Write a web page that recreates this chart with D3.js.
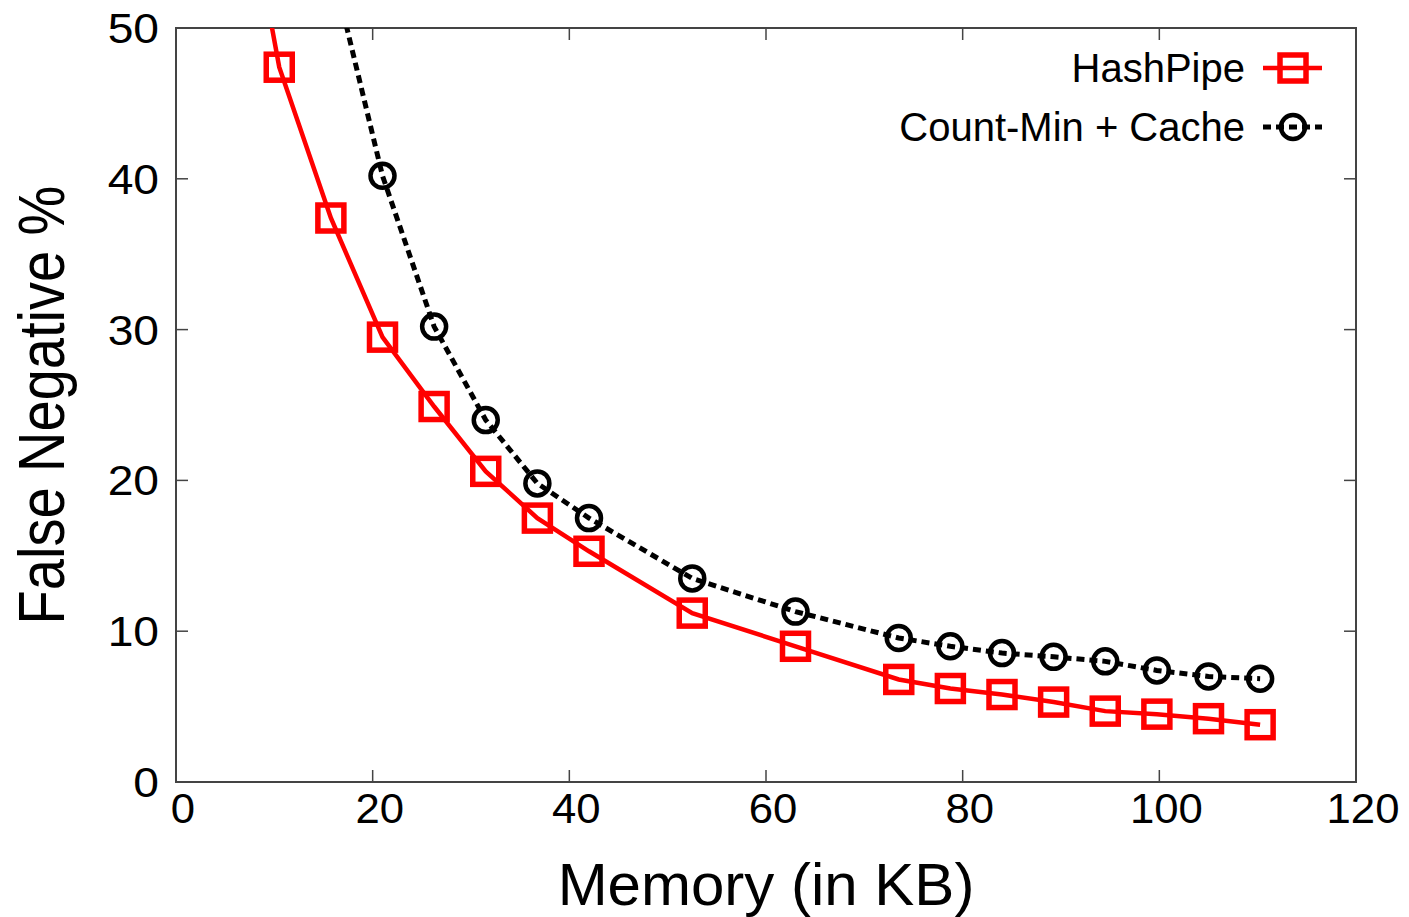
<!DOCTYPE html>
<html>
<head>
<meta charset="utf-8">
<script src="https://cdn.jsdelivr.net/npm/d3@7"></script>
<style>
  html, body { margin: 0; padding: 0; background: #fff; }
  svg text { font-family: "Liberation Sans", Arial, Helvetica, sans-serif; fill: #000; }
</style>
</head>
<body>
<div id="chart"></div>
<script>
// memory sizes (KB) and false negative rates
var memory = [5.25, 10.5, 15.75, 21, 26.25, 31.5, 36.75, 42, 52.5, 63, 73.5, 78.75, 84, 89.25, 94.5, 99.75, 105, 110.25];
var hashPipe = [66, 47.4, 37.4, 29.5, 24.9, 20.6, 17.5, 15.3, 11.2, 9.0, 6.8, 6.2, 5.8, 5.3, 4.7, 4.5, 4.2, 3.8];
var countMin = [null, null, 54.4, 40.2, 30.2, 24.0, 19.8, 17.5, 13.5, 11.3, 9.55, 9.0, 8.55, 8.3, 8.0, 7.4, 7.0, 6.85];
var xTicks = [0, 20, 40, 60, 80, 100, 120];
var yTicks = [0, 10, 20, 30, 40, 50];
var seriesNames = ["HashPipe", "Count-Min + Cache"];

function draw() {
    var W = 1409, H = 917;
    var plot = { left: 176, right: 1356, top: 28, bottom: 782 };

    var x = d3.scaleLinear().domain([0, 120]).range([plot.left, plot.right]);
    var y = d3.scaleLinear().domain([0, 50]).range([plot.bottom, plot.top]);

    var svg = d3.select("#chart").append("svg")
        .attr("width", W)
        .attr("height", H);

    svg.append("defs").append("clipPath")
        .attr("id", "plot-clip")
      .append("rect")
        .attr("x", plot.left)
        .attr("y", plot.top)
        .attr("width", plot.right - plot.left)
        .attr("height", plot.bottom - plot.top);

    // ticks, inward on all four sides
    var tickLen = 12;
    var axisColor = "#444";
    var ticks = svg.append("g").attr("stroke", axisColor).attr("stroke-width", 1.5);
    xTicks.slice(1, -1).forEach(function(t) {
        ticks.append("line").attr("x1", x(t)).attr("x2", x(t)).attr("y1", plot.bottom).attr("y2", plot.bottom - tickLen);
        ticks.append("line").attr("x1", x(t)).attr("x2", x(t)).attr("y1", plot.top).attr("y2", plot.top + tickLen);
    });
    yTicks.slice(1, -1).forEach(function(t) {
        ticks.append("line").attr("x1", plot.left).attr("x2", plot.left + tickLen).attr("y1", y(t)).attr("y2", y(t));
        ticks.append("line").attr("x1", plot.right).attr("x2", plot.right - tickLen).attr("y1", y(t)).attr("y2", y(t));
    });

    svg.append("rect")
        .attr("x", plot.left)
        .attr("y", plot.top)
        .attr("width", plot.right - plot.left)
        .attr("height", plot.bottom - plot.top)
        .attr("fill", "none")
        .attr("stroke", axisColor)
        .attr("stroke-width", 2);

    // tick labels
    svg.selectAll("text.xtick")
        .data(xTicks)
      .enter().append("text")
        .attr("class", "xtick")
        .attr("text-anchor", "middle")
        .attr("font-size", 42)
        .attr("transform", function(d) { return "translate(" + (x(d) + 7) + ",823) scale(1.04,1)"; })
        .text(function(d) { return d; });

    svg.selectAll("text.ytick")
        .data(yTicks)
      .enter().append("text")
        .attr("class", "ytick")
        .attr("text-anchor", "end")
        .attr("font-size", 42)
        .attr("transform", function(d) { return "translate(159," + (y(d) + 15) + ") scale(1.1,1)"; })
        .text(function(d) { return d; });

    // axis titles
    svg.append("text")
        .attr("x", 766)
        .attr("y", 905)
        .attr("text-anchor", "middle")
        .attr("font-size", 60)
        .text("Memory (in KB)");

    svg.append("text")
        .attr("text-anchor", "middle")
        .attr("font-size", 56)
        .attr("transform", "translate(64,405) rotate(-90) scale(1,1.17)")
        .text("False Negative %");

    // series
    var line = d3.line()
        .x(function(d) { return x(d[0]); })
        .y(function(d) { return y(d[1]); });

    var hpData = memory.map(function(m, i) { return [m, hashPipe[i]]; });
    var cmData = memory.map(function(m, i) { return [m, countMin[i]]; })
        .filter(function(d) { return d[1] != null; });

    var g = svg.append("g").attr("clip-path", "url(#plot-clip)");

    g.append("path")
        .datum(hpData)
        .attr("d", line)
        .attr("fill", "none")
        .attr("stroke", "#ff0000")
        .attr("stroke-width", 4.5);

    g.append("path")
        .datum(cmData)
        .attr("d", line)
        .attr("fill", "none")
        .attr("stroke", "#000")
        .attr("stroke-width", 5)
        .attr("stroke-dasharray", "8,5");

    var sq = 26;
    g.selectAll("rect.hp")
        .data(hpData)
      .enter().append("rect")
        .attr("class", "hp")
        .attr("x", function(d) { return x(d[0]) - sq / 2; })
        .attr("y", function(d) { return y(d[1]) - sq / 2; })
        .attr("width", sq)
        .attr("height", sq)
        .attr("fill", "none")
        .attr("stroke", "#ff0000")
        .attr("stroke-width", 5.5);

    g.selectAll("circle.cm")
        .data(cmData)
      .enter().append("circle")
        .attr("class", "cm")
        .attr("cx", function(d) { return x(d[0]); })
        .attr("cy", function(d) { return y(d[1]); })
        .attr("r", 12)
        .attr("fill", "none")
        .attr("stroke", "#000")
        .attr("stroke-width", 4.5);

    // legend
    var legend = svg.append("g");
    var rows = [68, 127];
    legend.selectAll("text")
        .data(seriesNames)
      .enter().append("text")
        .attr("x", 1245)
        .attr("y", function(d, i) { return rows[i] + 14; })
        .attr("text-anchor", "end")
        .attr("font-size", 40)
        .text(function(d) { return d; });

    legend.append("line")
        .attr("x1", 1263).attr("x2", 1322)
        .attr("y1", rows[0]).attr("y2", rows[0])
        .attr("stroke", "#ff0000").attr("stroke-width", 4.5);
    legend.append("rect")
        .attr("x", 1293 - sq / 2).attr("y", rows[0] - sq / 2)
        .attr("width", sq).attr("height", sq)
        .attr("fill", "none").attr("stroke", "#ff0000").attr("stroke-width", 5.5);

    legend.append("line")
        .attr("x1", 1263).attr("x2", 1322)
        .attr("y1", rows[1]).attr("y2", rows[1])
        .attr("stroke", "#000").attr("stroke-width", 5)
        .attr("stroke-dasharray", "8,5");
    legend.append("circle")
        .attr("cx", 1293).attr("cy", rows[1]).attr("r", 12)
        .attr("fill", "none").attr("stroke", "#000").attr("stroke-width", 4.5);
}

draw();
</script>
</body>
</html>
